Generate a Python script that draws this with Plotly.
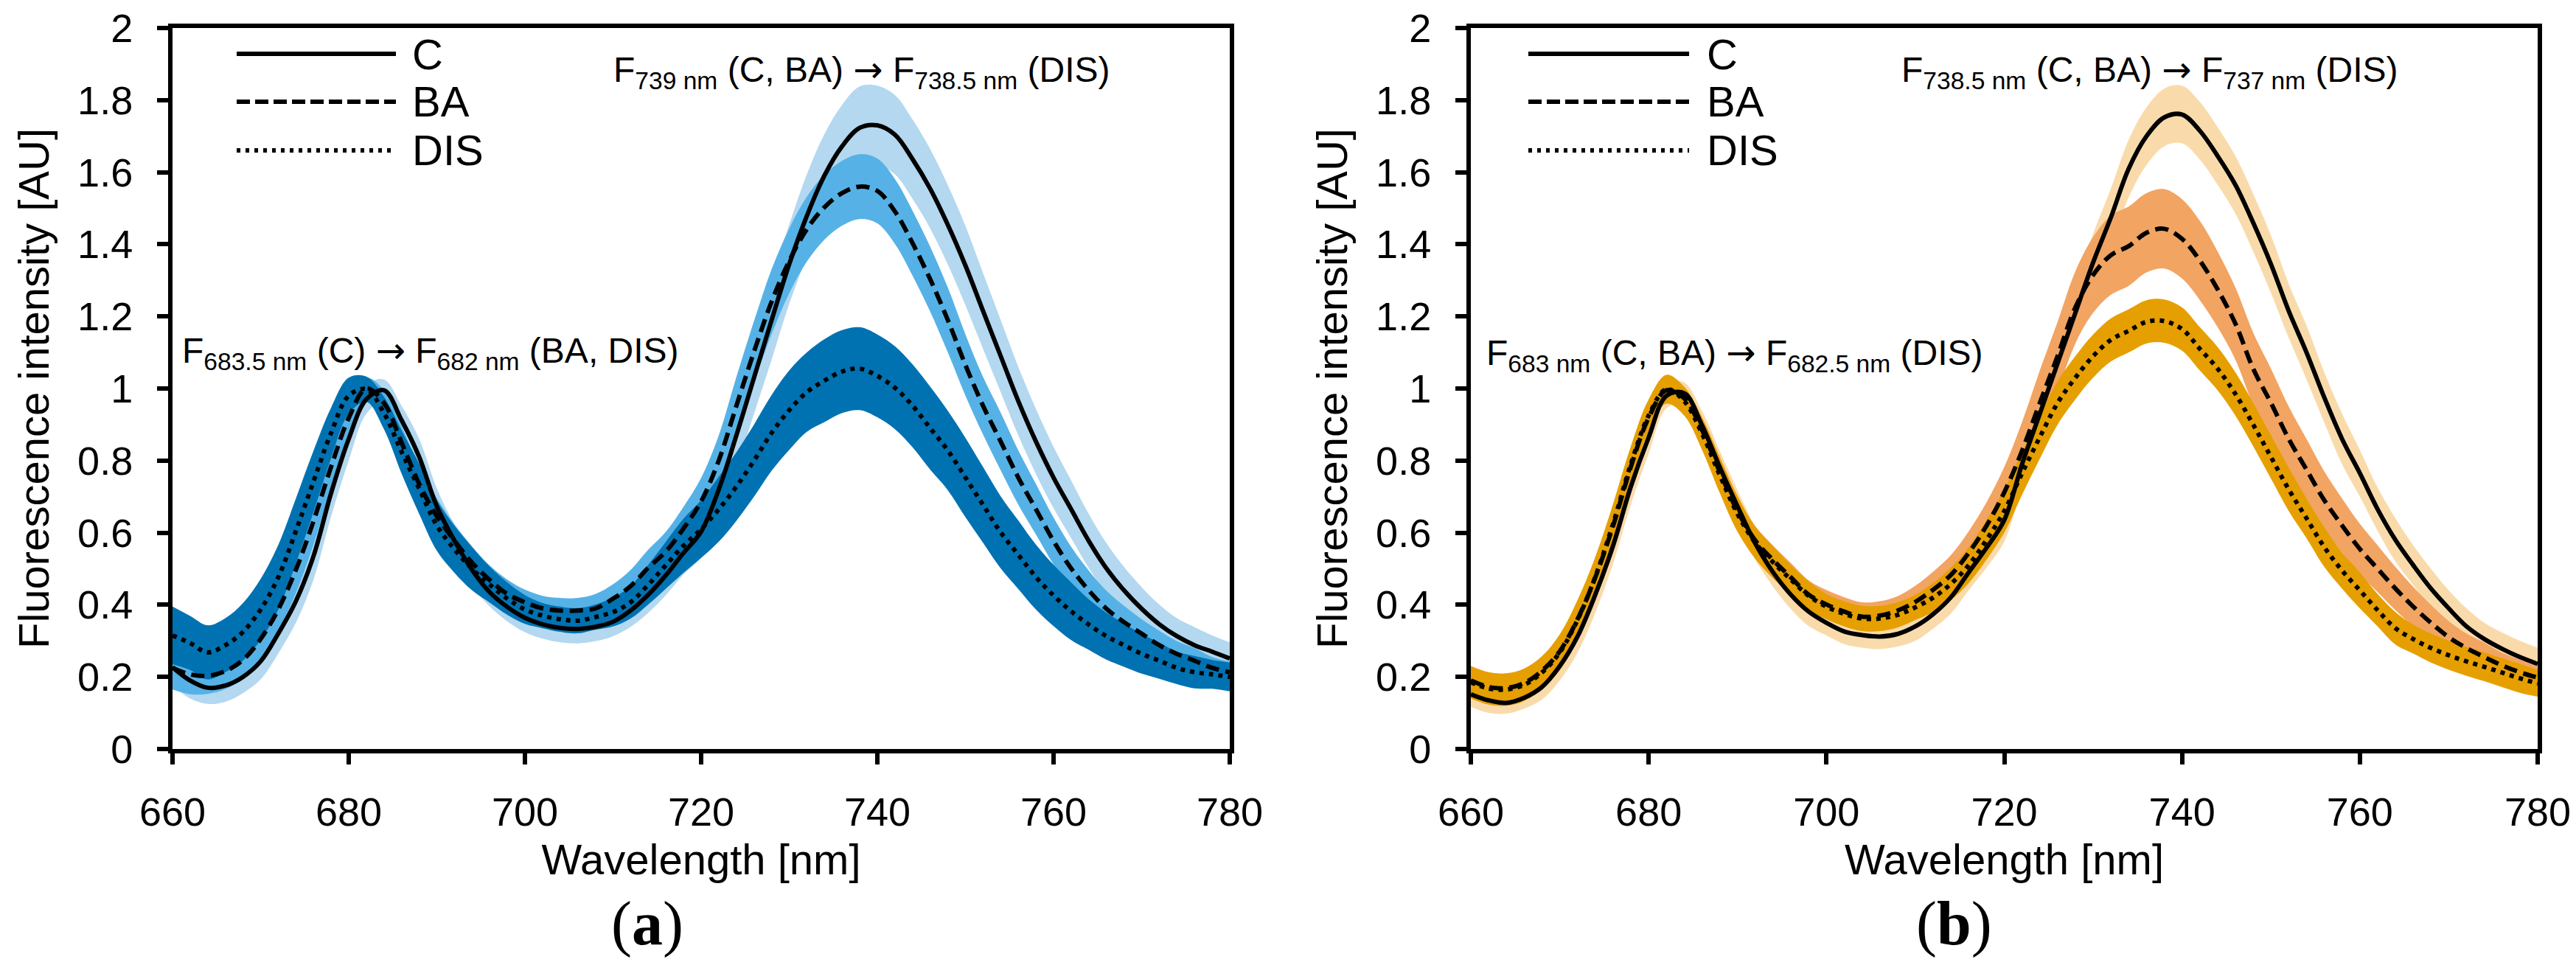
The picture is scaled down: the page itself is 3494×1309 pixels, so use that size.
import plotly.graph_objects as go

# wavelength grid [nm]
wl = list(range(660, 781, 2))

# ---- panel (a) : means ----
a_C = [0.227, 0.19, 0.17, 0.176, 0.20, 0.243, 0.32, 0.41, 0.535, 0.71,
       0.86, 0.97, 0.995, 0.912, 0.81, 0.673, 0.578, 0.497, 0.435, 0.394,
       0.364, 0.346, 0.336, 0.333, 0.339, 0.353, 0.384, 0.428, 0.482, 0.544,
       0.603, 0.72, 0.87, 1.03, 1.19, 1.345, 1.479, 1.591, 1.672, 1.723,
       1.73, 1.704, 1.636, 1.554, 1.454, 1.341, 1.215, 1.09, 0.965, 0.853,
       0.753, 0.665, 0.577, 0.501, 0.44, 0.389, 0.346, 0.313, 0.288, 0.27,
       0.251]
a_BA = [0.225, 0.207, 0.203, 0.216, 0.247, 0.305, 0.387, 0.497, 0.632, 0.783,
        0.918, 1.0, 0.96, 0.85, 0.735, 0.646, 0.578, 0.517, 0.469, 0.43,
        0.407, 0.39, 0.384, 0.384, 0.39, 0.417, 0.452, 0.503, 0.548, 0.612,
        0.687, 0.80, 0.952, 1.102, 1.241, 1.354, 1.442, 1.503, 1.542, 1.56,
        1.548, 1.491, 1.403, 1.303, 1.19, 1.065, 0.952, 0.853, 0.753, 0.665,
        0.577, 0.501, 0.44, 0.389, 0.352, 0.32, 0.288, 0.264, 0.245, 0.225,
        0.213]
a_DIS = [0.315, 0.294, 0.268, 0.288, 0.325, 0.387, 0.476, 0.605, 0.742, 0.877,
         0.98, 0.998, 0.932, 0.824, 0.722, 0.62, 0.554, 0.50, 0.456, 0.417,
         0.387, 0.37, 0.36, 0.356, 0.366, 0.38, 0.407, 0.456, 0.51, 0.564,
         0.61, 0.665, 0.728, 0.80, 0.877, 0.94, 0.99, 1.022, 1.047, 1.055,
         1.035, 1.002, 0.952, 0.89, 0.828, 0.753, 0.677, 0.601, 0.539, 0.477,
         0.426, 0.382, 0.345, 0.313, 0.288, 0.264, 0.245, 0.225, 0.213, 0.207,
         0.2]
# ---- panel (a) : standard deviations ----
a_C_sd = [0.05, 0.05, 0.045, 0.045, 0.045, 0.05, 0.055, 0.06, 0.065, 0.065,
          0.06, 0.04, 0.03, 0.04, 0.05, 0.05, 0.045, 0.045, 0.04, 0.04,
          0.04, 0.04, 0.04, 0.04, 0.04, 0.04, 0.045, 0.05, 0.055, 0.06,
          0.07, 0.08, 0.09, 0.10, 0.11, 0.11, 0.115, 0.115, 0.115, 0.115,
          0.11, 0.11, 0.11, 0.11, 0.11, 0.11, 0.105, 0.10, 0.095, 0.09,
          0.085, 0.08, 0.075, 0.07, 0.065, 0.06, 0.055, 0.05, 0.05, 0.045,
          0.045]
a_BA_sd = [0.06, 0.055, 0.05, 0.05, 0.05, 0.055, 0.06, 0.065, 0.065, 0.06,
           0.045, 0.03, 0.035, 0.045, 0.05, 0.05, 0.045, 0.045, 0.04, 0.04,
           0.035, 0.035, 0.035, 0.035, 0.04, 0.04, 0.045, 0.05, 0.055, 0.06,
           0.065, 0.07, 0.08, 0.085, 0.09, 0.09, 0.09, 0.09, 0.09, 0.09,
           0.09, 0.09, 0.09, 0.09, 0.09, 0.085, 0.08, 0.08, 0.075, 0.07,
           0.065, 0.06, 0.055, 0.05, 0.045, 0.04, 0.04, 0.035, 0.035, 0.03,
           0.03]
a_DIS_sd = [0.08, 0.075, 0.075, 0.075, 0.08, 0.085, 0.09, 0.09, 0.085, 0.07,
            0.05, 0.035, 0.045, 0.06, 0.07, 0.07, 0.065, 0.06, 0.05, 0.045,
            0.04, 0.035, 0.035, 0.035, 0.035, 0.04, 0.045, 0.055, 0.065, 0.075,
            0.08, 0.09, 0.095, 0.10, 0.105, 0.11, 0.11, 0.115, 0.115, 0.115,
            0.115, 0.115, 0.115, 0.115, 0.11, 0.11, 0.105, 0.10, 0.095, 0.09,
            0.085, 0.08, 0.07, 0.065, 0.06, 0.055, 0.05, 0.045, 0.045, 0.04,
            0.04]

# ---- panel (b) : means ----
b_C = [0.152, 0.135, 0.128, 0.142, 0.172, 0.23, 0.312, 0.428, 0.564, 0.728,
       0.864, 0.98, 0.987, 0.898, 0.782, 0.673, 0.57, 0.49, 0.428, 0.381,
       0.35, 0.326, 0.316, 0.312, 0.319, 0.34, 0.374, 0.421, 0.49, 0.558,
       0.635, 0.79, 0.93, 1.07, 1.21, 1.35, 1.475, 1.61, 1.70, 1.752,
       1.76, 1.715, 1.645, 1.565, 1.46, 1.345, 1.215, 1.10, 0.975, 0.86,
       0.765, 0.665, 0.58, 0.51, 0.445, 0.39, 0.34, 0.305, 0.278, 0.255,
       0.236]
b_BA = [0.19, 0.172, 0.169, 0.183, 0.217, 0.271, 0.36, 0.476, 0.619, 0.783,
        0.919, 0.995, 0.973, 0.885, 0.769, 0.66, 0.578, 0.524, 0.476, 0.428,
        0.401, 0.381, 0.367, 0.37, 0.384, 0.408, 0.442, 0.483, 0.544, 0.619,
        0.712, 0.827, 0.96, 1.09, 1.225, 1.315, 1.37, 1.395, 1.432, 1.443,
        1.415, 1.355, 1.275, 1.18, 1.055, 0.96, 0.86, 0.775, 0.69, 0.62,
        0.555, 0.50, 0.445, 0.395, 0.35, 0.31, 0.28, 0.255, 0.232, 0.213,
        0.198]
b_DIS = [0.185, 0.168, 0.165, 0.178, 0.212, 0.268, 0.358, 0.478, 0.625, 0.79,
         0.925, 0.998, 0.965, 0.875, 0.76, 0.652, 0.572, 0.518, 0.47, 0.425,
         0.395, 0.375, 0.362, 0.362, 0.372, 0.393, 0.42, 0.458, 0.51, 0.58,
         0.66, 0.765, 0.865, 0.96, 1.03, 1.09, 1.135, 1.16, 1.185, 1.187,
         1.165, 1.11, 1.055, 0.985, 0.90, 0.81, 0.72, 0.64, 0.56, 0.495,
         0.44, 0.385, 0.335, 0.305, 0.28, 0.26, 0.243, 0.228, 0.212, 0.196,
         0.182]
# ---- panel (b) : standard deviations ----
b_C_sd = [0.035, 0.035, 0.03, 0.03, 0.035, 0.04, 0.045, 0.05, 0.05, 0.05,
          0.045, 0.035, 0.03, 0.04, 0.045, 0.045, 0.045, 0.04, 0.04, 0.04,
          0.035, 0.035, 0.035, 0.035, 0.035, 0.04, 0.04, 0.045, 0.05, 0.055,
          0.06, 0.065, 0.07, 0.075, 0.08, 0.08, 0.08, 0.08, 0.08, 0.08,
          0.08, 0.08, 0.08, 0.08, 0.08, 0.08, 0.075, 0.075, 0.07, 0.07,
          0.065, 0.06, 0.06, 0.055, 0.055, 0.05, 0.05, 0.045, 0.045, 0.045,
          0.045]
b_BA_sd = [0.04, 0.04, 0.04, 0.04, 0.04, 0.045, 0.05, 0.05, 0.05, 0.045,
           0.035, 0.03, 0.03, 0.035, 0.04, 0.04, 0.04, 0.04, 0.04, 0.04,
           0.04, 0.04, 0.04, 0.04, 0.04, 0.045, 0.05, 0.055, 0.06, 0.065,
           0.07, 0.08, 0.09, 0.095, 0.10, 0.105, 0.11, 0.11, 0.11, 0.11,
           0.11, 0.11, 0.105, 0.10, 0.10, 0.095, 0.09, 0.085, 0.08, 0.075,
           0.07, 0.065, 0.06, 0.055, 0.05, 0.045, 0.04, 0.04, 0.035, 0.035,
           0.03]
b_DIS_sd = [0.045, 0.045, 0.045, 0.045, 0.045, 0.05, 0.055, 0.055, 0.055, 0.05,
            0.045, 0.04, 0.04, 0.045, 0.05, 0.05, 0.045, 0.045, 0.04, 0.04,
            0.035, 0.035, 0.035, 0.035, 0.035, 0.035, 0.04, 0.045, 0.05, 0.055,
            0.06, 0.06, 0.06, 0.06, 0.06, 0.06, 0.06, 0.06, 0.06, 0.06,
            0.06, 0.06, 0.06, 0.06, 0.06, 0.06, 0.06, 0.055, 0.055, 0.05,
            0.05, 0.045, 0.045, 0.04, 0.04, 0.04, 0.04, 0.04, 0.04, 0.04,
            0.037]

series_names = ["C", "BA", "DIS"]
x_ticks = [660, 680, 700, 720, 740, 760, 780]
y_ticks = [0, 0.2, 0.4, 0.6, 0.8, 1, 1.2, 1.4, 1.6, 1.8, 2]
y_ticktext = ["0", "0.2", "0.4", "0.6", "0.8", "1", "1.2", "1.4", "1.6", "1.8", "2"]

panel_a = {"means": [a_C, a_BA, a_DIS], "sds": [a_C_sd, a_BA_sd, a_DIS_sd],
           "colors": ["#b3d8f0", "#56b2e6", "#0072b2"]}
panel_b = {"means": [b_C, b_BA, b_DIS], "sds": [b_C_sd, b_BA_sd, b_DIS_sd],
           "colors": ["#f9dbab", "#f2a462", "#e69f00"]}

line_dash = ["solid", "18px,9px", "6px,7px"]
FONT = "Liberation Sans, Arial, sans-serif"

# page body has an 8 px margin: lay the figure out in page pixels minus that offset
OFF = 8
W, H = 3494 - 2 * OFF, 1309 - 2 * OFF


def px(p):
    return (p - OFF) / W


def py(p):
    return 1 - (p - OFF) / H


fig = go.Figure()

for panel, xa, ya in [(panel_a, "x", "y"), (panel_b, "x2", "y2")]:
    # shaded bands (C first, DIS on top)
    for m, s, col in zip(panel["means"], panel["sds"], panel["colors"]):
        lo = [mi - si for mi, si in zip(m, s)]
        hi = [mi + si for mi, si in zip(m, s)]
        fig.add_trace(go.Scatter(x=wl, y=lo, mode="lines", xaxis=xa, yaxis=ya,
                                 line=dict(width=0, shape="spline", color=col),
                                 showlegend=False, hoverinfo="skip"))
        fig.add_trace(go.Scatter(x=wl, y=hi, mode="lines", xaxis=xa, yaxis=ya,
                                 line=dict(width=0, shape="spline", color=col),
                                 fill="tonexty", fillcolor=col,
                                 showlegend=False, hoverinfo="skip"))
    # mean lines
    for m, name, dash in zip(panel["means"], series_names, line_dash):
        fig.add_trace(go.Scatter(x=wl, y=m, mode="lines", name=name, xaxis=xa, yaxis=ya,
                                 line=dict(color="black", width=6, dash=dash, shape="spline"),
                                 showlegend=False))

axis_common = dict(showline=True, linecolor="black", linewidth=6, mirror=True,
                   ticks="outside", ticklen=15, tickwidth=6, tickcolor="black",
                   showgrid=False, zeroline=False, automargin=False,
                   ticklabeloverflow="allow",
                   tickfont=dict(family=FONT, size=54, color="black"))

ydom = [py(1016), py(38)]
xdom_a = [px(234), px(1668)]
xdom_b = [px(1995), px(3442)]

xcfg = dict(range=[660, 780], tickvals=x_ticks, ticklabelstandoff=18,
            title=dict(text="Wavelength [nm]", font=dict(family=FONT, size=58, color="black"),
                       standoff=18))
ycfg = dict(range=[0, 2], tickvals=y_ticks, ticktext=y_ticktext, ticklabelstandoff=22,
            title=dict(text="Fluorescence intensity [AU]",
                       font=dict(family=FONT, size=58, color="black"), standoff=22))

fig.update_layout(
    width=W, height=H,
    margin=dict(l=0, r=0, t=0, b=0),
    paper_bgcolor="white", plot_bgcolor="white",
    showlegend=False,
    xaxis=dict(domain=xdom_a, anchor="y", **xcfg, **axis_common),
    yaxis=dict(domain=ydom, anchor="x", **ycfg, **axis_common),
    xaxis2=dict(domain=xdom_b, anchor="y2", **xcfg, **axis_common),
    yaxis2=dict(domain=ydom, anchor="x2", **ycfg, **axis_common),
)

# legend keys (drawn inside each panel)
legend_y = [0.9642, 0.8978, 0.8303]
legend_dash = ["solid", "18px,7px", "5px,7px"]
for xr, yr, x0, x1, xt in [("x domain", "y domain", 0.0607, 0.2113, 0.2252),
                           ("x2 domain", "y2 domain", 0.0539, 0.2046, 0.2198)]:
    for yy, dash, name in zip(legend_y, legend_dash, series_names):
        fig.add_shape(type="line", xref=xr, yref=yr, x0=x0, x1=x1, y0=yy, y1=yy,
                      line=dict(color="black", width=6, dash=dash))
        fig.add_annotation(xref=xr, yref=yr, x=xt, y=yy, text=name, showarrow=False,
                           xanchor="left", yanchor="middle",
                           font=dict(family=FONT, size=58, color="black"))

# peak annotations
ARROW = '<span style="font-family:DejaVu Sans">→</span>'
ann_font = dict(family=FONT, size=48, color="black")
peak_notes = [
    ("x", "y", 660.9, 1.10, "F<sub>683.5 nm</sub> (C) " + ARROW + " F<sub>682 nm</sub> (BA, DIS)"),
    ("x", "y", 709.9, 1.88, "F<sub>739 nm</sub> (C, BA) " + ARROW + " F<sub>738.5 nm</sub> (DIS)"),
    ("x2", "y2", 661.6, 1.094, "F<sub>683 nm</sub> (C, BA) " + ARROW + " F<sub>682.5 nm</sub> (DIS)"),
    ("x2", "y2", 708.3, 1.88, "F<sub>738.5 nm</sub> (C, BA) " + ARROW + " F<sub>737 nm</sub> (DIS)"),
]
for xr, yr, xv, yv, txt in peak_notes:
    fig.add_annotation(xref=xr, yref=yr, x=xv, y=yv, text=txt, showarrow=False,
                       xanchor="left", yanchor="middle", font=ann_font)

# panel labels
for xpos, lab in [(878, "a"), (2650, "b")]:
    fig.add_annotation(xref="paper", yref="paper", x=px(xpos), y=py(1253),
                       text="(<b>" + lab + "</b>)", showarrow=False,
                       xanchor="center", yanchor="middle",
                       font=dict(family="Liberation Serif, Times New Roman, serif",
                                 size=84, color="black"))

fig.write_html("out.html")
